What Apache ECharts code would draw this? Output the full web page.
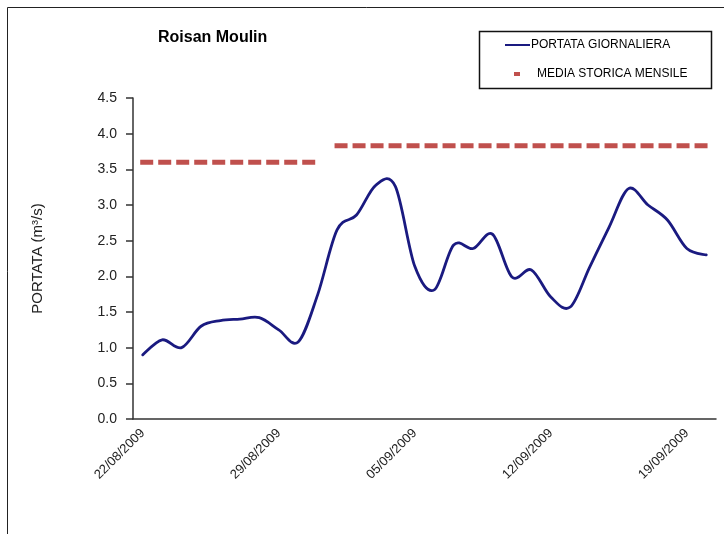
<!DOCTYPE html>
<html>
<head>
<meta charset="utf-8">
<script src="https://cdn.jsdelivr.net/npm/echarts@6/dist/echarts.min.js"></script>
<style>html,body{margin:0;padding:0;background:#fff;}#c{width:724px;height:534px;}</style>
</head>
<body>
<div id="c"></div>
<script>
const dates = ["22/08/2009","23/08/2009","24/08/2009","25/08/2009","26/08/2009","27/08/2009","28/08/2009","29/08/2009","30/08/2009","31/08/2009",
"01/09/2009","02/09/2009","03/09/2009","04/09/2009","05/09/2009","06/09/2009","07/09/2009","08/09/2009","09/09/2009","10/09/2009",
"11/09/2009","12/09/2009","13/09/2009","14/09/2009","15/09/2009","16/09/2009","17/09/2009","18/09/2009","19/09/2009","20/09/2009"];
const portataGiornaliera = [0.90,1.11,1.00,1.30,1.38,1.40,1.42,1.25,1.08,1.74,2.65,2.86,3.28,3.26,2.14,1.81,2.44,2.39,2.59,1.99,2.09,1.71,1.57,2.13,2.69,3.23,3.00,2.79,2.39,2.30];
const mediaAgosto = [3.6,3.6,3.6,3.6,3.6,3.6,3.6,3.6,3.6,3.6,null,null,null,null,null,null,null,null,null,null,null,null,null,null,null,null,null,null,null,null];
const mediaSettembre = [null,null,null,null,null,null,null,null,null,null,3.83,3.83,3.83,3.83,3.83,3.83,3.83,3.83,3.83,3.83,3.83,3.83,3.83,3.83,3.83,3.83,3.83,3.83,3.83,3.83];
const yTicks = {min:0, max:4.5, interval:0.5};

const font = "'Liberation Sans', Arial, sans-serif";
const blue = '#1a1a80', red = '#c0504d';

// Excel-like smoothed line (Catmull-Rom Bezier) through points placed by the axes
function smoothPath(params, api) {
  if (params.dataIndex !== 0) return null;
  const p = portataGiornaliera.map((v, i) => api.coord([i, v]));
  let d = 'M' + p[0][0] + ' ' + p[0][1];
  for (let i = 0; i < p.length - 1; i++) {
    const p0 = p[i - 1] || p[i], p1 = p[i], p2 = p[i + 1], p3 = p[i + 2] || p[i + 1];
    const c1x = p1[0] + (p2[0] - p0[0]) / 6, c1y = p1[1] + (p2[1] - p0[1]) / 6;
    const c2x = p2[0] - (p3[0] - p1[0]) / 6, c2y = p2[1] - (p3[1] - p1[1]) / 6;
    d += ' C' + c1x + ' ' + c1y + ' ' + c2x + ' ' + c2y + ' ' + p2[0] + ' ' + p2[1];
  }
  return {type:'path', shape:{pathData:d}, style:{fill:null, stroke:blue, lineWidth:2.8, lineJoin:'round', lineCap:'round'}};
}

const chart = echarts.init(document.getElementById('c'), null, {renderer:'canvas'});
chart.setOption({
  animation:false,
  backgroundColor:'#fff',
  title:{text:'Roisan Moulin', left:158, top:30, padding:0,
    textStyle:{fontFamily:font, fontSize:16, fontWeight:'bold', color:'#000'}},
  graphic:[
    {type:'rect', left:5, top:5, shape:{width:740, height:560}, style:{fill:'none', stroke:'#222', lineWidth:1}, silent:true},
    {type:'rect', left:477, top:29, shape:{width:232, height:57}, style:{fill:'none', stroke:'#111', lineWidth:1.5}, silent:true}
  ],
  legend:[
    {data:[{name:'PORTATA GIORNALIERA', icon:'rect', itemStyle:{color:blue}}], left:505, top:39, itemWidth:25, itemHeight:2, padding:0,
      textStyle:{fontFamily:font, fontSize:12, color:'#000', padding:[0,0,0,-4]}},
    {data:[{name:'MEDIA STORICA MENSILE', icon:'rect', itemStyle:{color:red}}], left:514, top:68, itemWidth:6, itemHeight:4, padding:0,
      textStyle:{fontFamily:font, fontSize:12, color:'#000', padding:[0,0,0,12]}}
  ],
  grid:{left:133, right:8, top:98, bottom:115, containLabel:false},
  xAxis:{type:'category', data:dates, boundaryGap:true,
    axisLine:{lineStyle:{color:'#333', width:1.5}},
    axisTick:{interval:6, length:6, lineStyle:{color:'#333', width:1.5}},
    axisLabel:{interval:6, rotate:45, margin:12, fontFamily:font, fontSize:13, color:'#222'},
    splitLine:{show:false}},
  yAxis:{type:'value', min:yTicks.min, max:yTicks.max, interval:yTicks.interval,
    name:'PORTATA (m³/s)', nameLocation:'middle', nameRotate:90, nameGap:88,
    nameTextStyle:{fontFamily:font, fontSize:15, color:'#222'},
    axisLine:{show:true, lineStyle:{color:'#333', width:1.5}},
    axisTick:{show:true, length:7, lineStyle:{color:'#333', width:1.5}},
    axisLabel:{margin:16, fontFamily:font, fontSize:14, color:'#222', formatter:v=>v.toFixed(1)},
    splitLine:{show:false}},
  series:[
    {name:'PORTATA GIORNALIERA', type:'custom', data:portataGiornaliera.map((v,i)=>[i,v]),
      encode:{x:0, y:1}, renderItem:smoothPath, itemStyle:{color:blue}, z:3},
    {name:'MEDIA STORICA MENSILE', type:'line', data:mediaAgosto, symbol:'none', connectNulls:false,
      lineStyle:{color:red, width:5, type:[8,10], cap:'square'}, itemStyle:{color:red}, z:2},
    {name:'MEDIA STORICA MENSILE', type:'line', data:mediaSettembre, symbol:'none', connectNulls:false,
      lineStyle:{color:red, width:5, type:[8,10], cap:'square'}, itemStyle:{color:red}, z:2}
  ]
});
</script>
</body>
</html>
